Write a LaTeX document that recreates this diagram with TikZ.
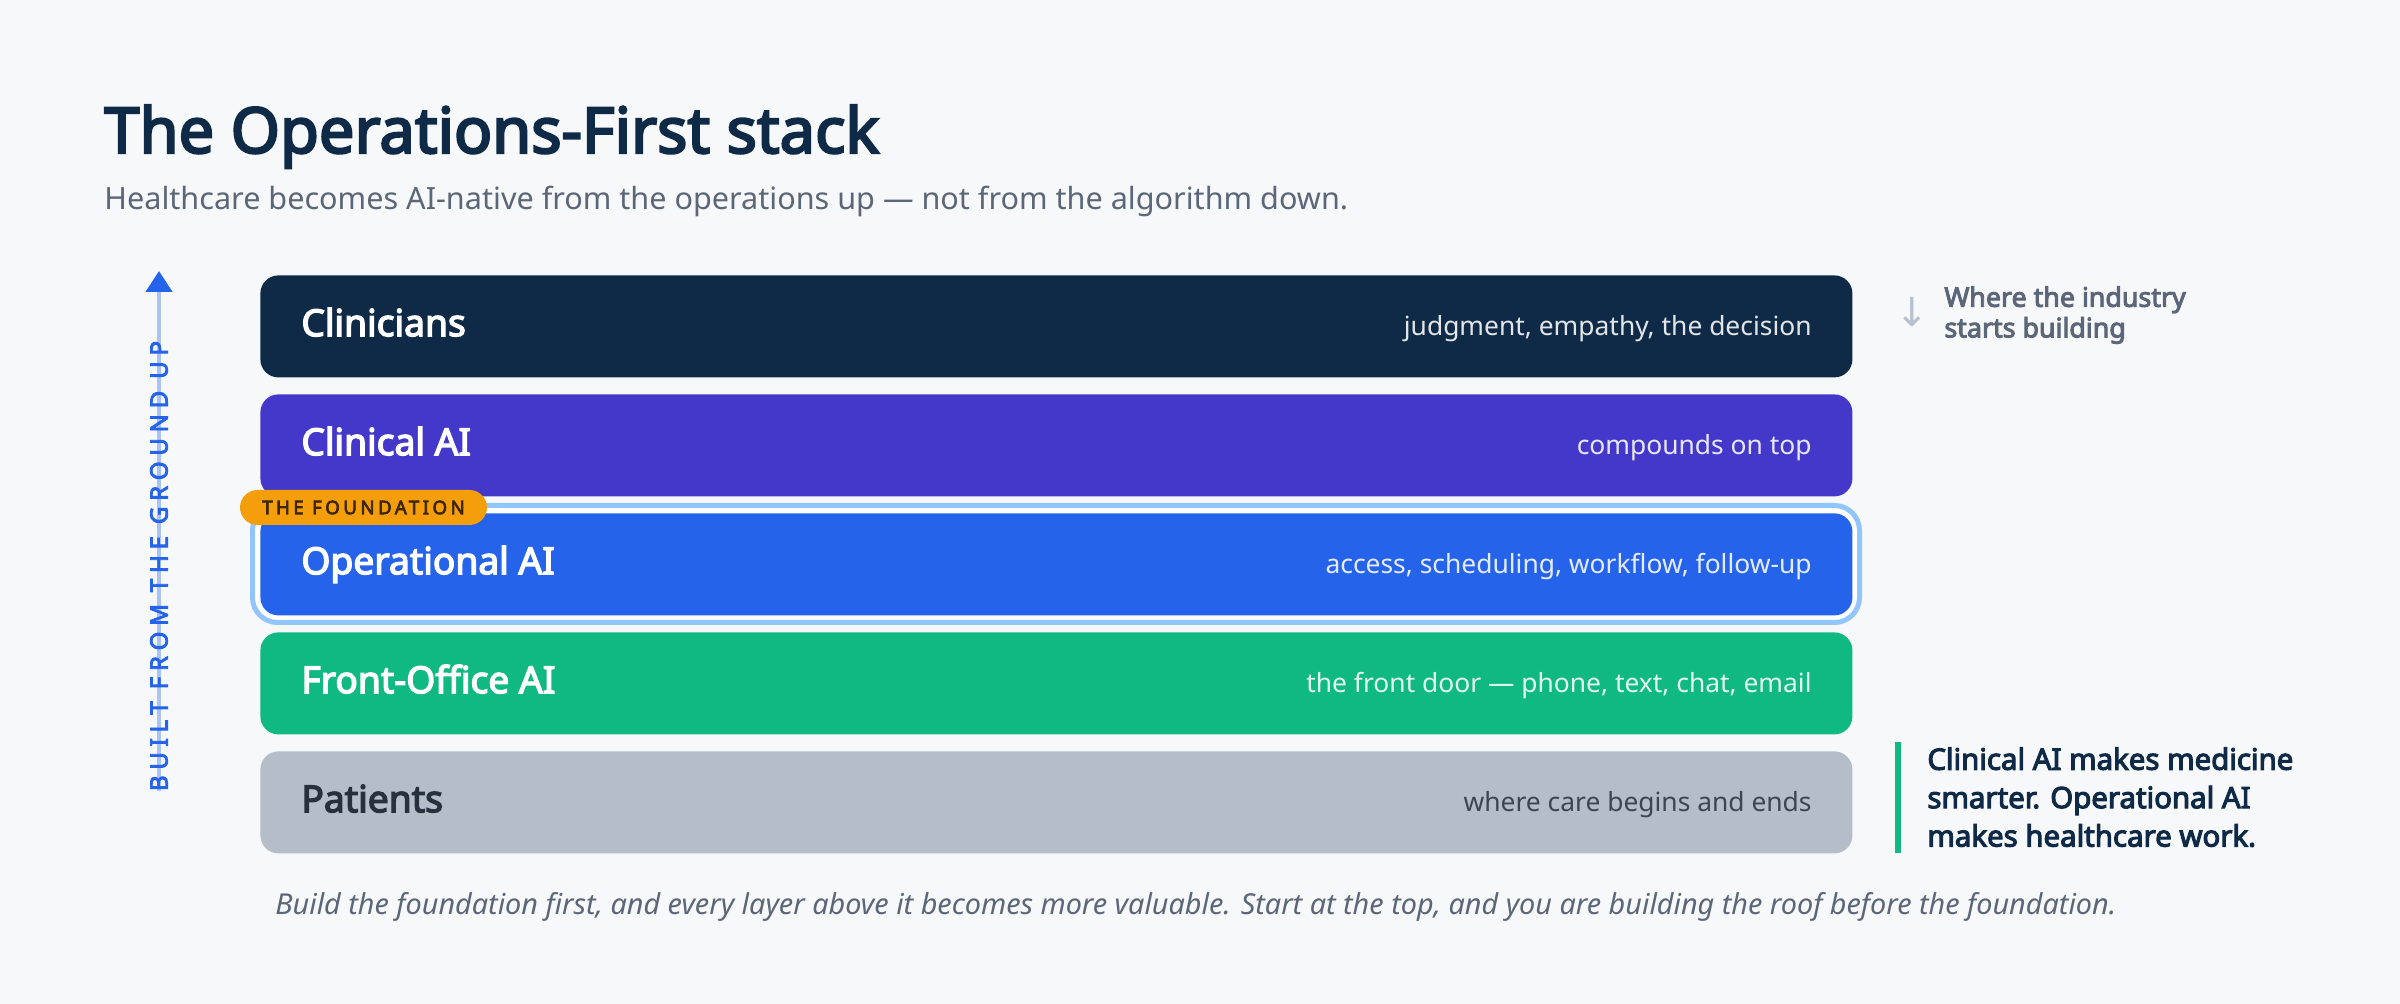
\documentclass[tikz,border=0pt]{standalone}
\usepackage{fontspec}
\setmainfont{Noto Sans}[AutoFakeBold=3.6]
\newfontfamily\symfont{DejaVu Sans}
\usepackage{xcolor}
\usetikzlibrary{positioning,arrows.meta}

\definecolor{bgpage}{HTML}{F6F8FA}
\definecolor{navy}{HTML}{0F2A47}
\definecolor{indigo}{HTML}{4338CA}
\definecolor{opblue}{HTML}{2563EB}
\definecolor{ringblue}{HTML}{93C5FD}
\definecolor{emerald}{HTML}{10B981}
\definecolor{patgray}{HTML}{B5BDC9}
\definecolor{pattext}{HTML}{27313D}
\definecolor{slatetext}{HTML}{5B6678}
\definecolor{amber}{HTML}{F59E0B}
\definecolor{ambertext}{HTML}{3D2605}
\definecolor{arrowgray}{HTML}{B7C1CF}
\definecolor{shaftblue}{HTML}{A8C3F4}

\tikzset{
  layer/.style={rounded corners=9pt, minimum width=796pt, minimum height=51pt, inner sep=0pt, anchor=north west, draw=none},
  lname/.style={anchor=west, inner sep=0pt, text height=0.714em, text depth=0pt, font=\fontsize{18.6}{22}\selectfont\bfseries, text=white},
  ldesc/.style={anchor=east, inner sep=0pt, text height=0.714em, text depth=0pt, font=\fontsize{13.2}{16}\selectfont, text=white, text opacity=0.88},
}

\begin{document}
\begin{tikzpicture}[x=0.5pt,y=0.5pt,yscale=-1]
\useasboundingbox (0,0) rectangle (2400,1004);
\fill[bgpage] (0,0) rectangle (2400,1004);

% Title
\node[anchor=base west, inner sep=0pt, font=\fontsize{31.6}{36}\selectfont\bfseries, text=navy] (title) at (104,153) {The Operations-First stack};
% Subtitle
\node[anchor=base west, inner sep=0pt, font=\fontsize{15.3}{18}\selectfont, text=slatetext] (subtitle) at (104,210) {Healthcare becomes AI-native from the operations up — not from the algorithm down.};

% Ring round the foundation layer
\node[rounded corners=12.5pt, minimum width=803.5pt, minimum height=58.5pt, inner sep=0pt, draw=ringblue, line width=2.5pt, fill=white] (opring) at (1056,564) {};

% Layers
\node[layer, fill=navy] (clinicians) at (260,275) {};
\node[layer, fill=indigo] (clinical) at (260,394) {};
\node[layer, fill=opblue] (operational) at (260,513) {};
\node[layer, fill=emerald] (frontoffice) at (260,632) {};
\node[layer, fill=patgray] (patients) at (260,751) {};

% Layer names
\node[lname] (clinicians-t) at (301,329) {Clinicians};
\node[lname] (clinical-t) at (301,448) {Clinical AI};
\node[lname] (operational-t) at (301,567) {Operational AI};
\node[lname] (frontoffice-t) at (301,686) {Front-Office AI};
\node[lname, text=pattext] (patients-t) at (301,805) {Patients};

% Layer descriptions
\node[ldesc] (clinicians-d) at (1812,328) {judgment, empathy, the decision};
\node[ldesc] (clinical-d) at (1812,447) {compounds on top};
\node[ldesc] (operational-d) at (1812,566) {access, scheduling, workflow, follow-up};
\node[ldesc] (frontoffice-d) at (1812,685) {the front door — phone, text, chat, email};
\node[ldesc, text=pattext, text opacity=0.85] (patients-d) at (1812,804) {where care begins and ends};

% Badge
\node[rounded corners=8.75pt, minimum width=123.5pt, minimum height=17.5pt, inner sep=0pt, fill=amber, text=ambertext, font=\fontsize{9.4}{11}\selectfont\bfseries\addfontfeatures{LetterSpace=18}] (badge) at (363.5,507.5) {THE FOUNDATION};

% Ground-up arrow
\coordinate (gtop) at (159,271);
\coordinate (gbot) at (159,791);
\draw[shaftblue, line width=2.3pt, -{Triangle[color=opblue, width=13pt, length=10.5pt]}] (gbot) -- (gtop);
\node[rotate=90, inner sep=0pt, text=opblue, font=\fontsize{12}{14}\selectfont\bfseries\addfontfeatures{LetterSpace=24}] (ground) at (159,566) {BUILT FROM THE GROUND UP};

% Right notes
\node[inner sep=0pt, text=arrowgray, font=\symfont\fontsize{20}{22}\selectfont] (downarrow) at (1912,312) {↓};
\node[anchor=north west, inner sep=0pt, align=left, text=slatetext, font=\fontsize{13.4}{15.3}\selectfont\bfseries] (startnote) at (1944,286) {Where the industry\\starts building};

\fill[emerald] (1895,742) rectangle (1901,853);
\node[anchor=north west, inner sep=0pt, align=left, text=navy, font=\fontsize{14.7}{19.2}\selectfont\bfseries] (quote) at (1927,747) {Clinical AI makes medicine\\smarter. Operational AI\\makes healthcare work.};

% Caption
\node[anchor=base west, inner sep=0pt, text=slatetext, font=\fontsize{14.4}{17}\selectfont\itshape] (caption) at (275,915) {Build the foundation first, and every layer above it becomes more valuable. Start at the top, and you are building the roof before the foundation.};

\end{tikzpicture}
\end{document}
